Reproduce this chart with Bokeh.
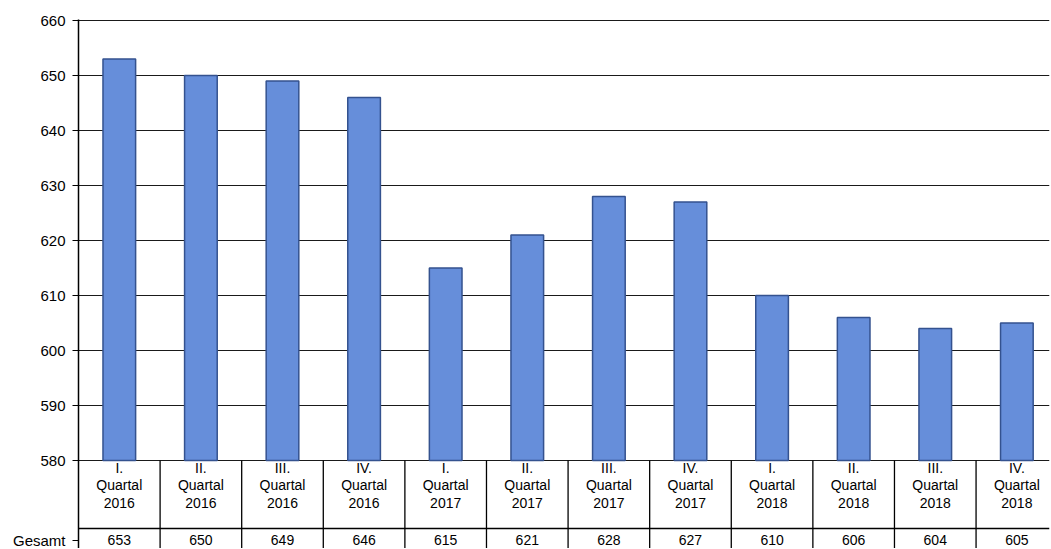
from bokeh.plotting import figure
from bokeh.models import Range1d, FixedTicker, ColumnDataSource
from bokeh.core.properties import value
from bokeh.embed import file_html
from bokeh.resources import INLINE

# ---- data ----
quarters = ["I.", "II.", "III.", "IV.", "I.", "II.", "III.", "IV.", "I.", "II.", "III.", "IV."]
quarter_word = "Quartal"
years = ["2016", "2016", "2016", "2016", "2017", "2017", "2017", "2017", "2018", "2018", "2018", "2018"]
values = [653, 650, 649, 646, 615, 621, 628, 627, 610, 606, 604, 605]
row_label = "Gesamt"
y_ticks = [580, 590, 600, 610, 620, 630, 640, 650, 660]

FONT = "Liberation Sans"
n = len(values)
xc = [i + 0.5 for i in range(n)]
X_END = 11.9          # the scan is cropped at the right edge
PX = 5.495            # pixels per y unit (used to place table rows below the axis)
BASE = y_ticks[0]

def below(px):
    return BASE - px / PX

ROW2 = 565.5          # y position of the "Gesamt" table row (below the axis range)

src = ColumnDataSource(dict(x=xc, v=values, q=quarters, y=years,
                            w=[quarter_word] * n, s=[str(v) for v in values]))

p = figure(width=1050, height=548, x_range=Range1d(0, X_END), y_range=Range1d(below(88), 660.2),
           output_backend="svg", toolbar_location=None, x_axis_location=None,
           min_border_left=78, min_border_right=1, min_border_top=19, min_border_bottom=0)

# bars
p.vbar(x="x", top="v", bottom=BASE, width=0.4, source=src,
       fill_color="#668EDA", line_color="#34528F", line_width=1.5)

p.xgrid.visible = False
p.outline_line_color = None
# the row label of the data table is carried by the y axis as an extra tick
p.yaxis.ticker = FixedTicker(ticks=y_ticks + [ROW2])
p.yaxis.major_label_overrides = {ROW2: row_label}
p.ygrid.ticker = FixedTicker(ticks=y_ticks)
p.ygrid.grid_line_color = "#1a1a1a"
p.ygrid.grid_line_width = 1
p.yaxis.axis_line_color = "black"
p.yaxis.axis_line_width = 1.5
p.yaxis.major_tick_out = 6
p.yaxis.major_tick_in = 0
p.yaxis.major_tick_line_color = "black"
p.yaxis.minor_tick_line_color = None
p.yaxis.major_label_text_font = FONT
p.yaxis.major_label_text_font_size = "15px"
p.yaxis.major_label_text_color = "black"
p.yaxis.major_label_standoff = 7

# ---- data table below the axis ----
DIV = below(68)
bot = p.y_range.start
cols = list(range(1, n))
p.segment(x0=cols, y0=[BASE] * len(cols), x1=cols, y1=[bot] * len(cols),
          line_color="black", line_width=1.3)
p.segment(x0=[0], y0=[DIV], x1=[X_END], y1=[DIV], line_color="black", line_width=1.3)

kw = dict(text_font=value(FONT), text_font_size="14px", text_color="black",
          text_align="center", text_baseline="middle")
p.text(x="x", y=below(7.5), text="q", source=src, **kw)
p.text(x="x", y=below(25), text="w", source=src, **kw)
p.text(x="x", y=below(42.5), text="y", source=src, **kw)
p.text(x="x", y=ROW2, text="s", source=src, **kw)

open("out.html", "w").write(file_html(p, INLINE))
